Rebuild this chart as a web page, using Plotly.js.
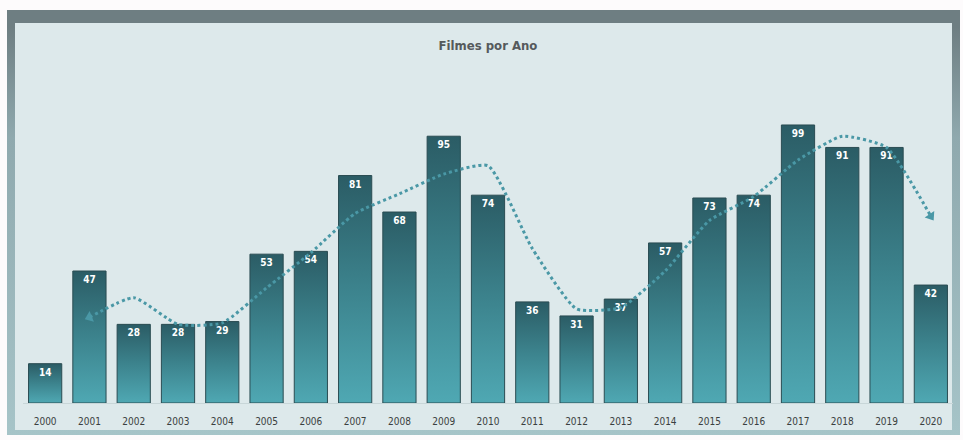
<!DOCTYPE html>
<html>
<head>
<meta charset="utf-8">
<script src="https://cdn.plot.ly/plotly-3.0.1.min.js"></script>
<style>
  html, body { margin: 0; padding: 0; background: #fdfbfc; }
  #frame { position: absolute; left: 7px; top: 10px; width: 953px; height: 425px;
           background: linear-gradient(to bottom, #6e7e82 0%, #6e7e82 4%, #8fa9ae 30%, #a6c4c8 100%); }
  #inner { position: absolute; left: 15px; top: 23px; width: 937px; height: 407px; background: #dde9eb; }
  #chart { position: absolute; left: 0; top: 0; width: 963px; height: 440px; }
</style>
</head>
<body>
<div id="frame"></div>
<div id="inner"></div>
<div id="chart"></div>
<script>
const anos = ['2000','2001','2002','2003','2004','2005','2006','2007','2008','2009','2010',
              '2011','2012','2013','2014','2015','2016','2017','2018','2019','2020'];
const filmes = [14, 47, 28, 28, 29, 53, 54, 81, 68, 95, 74, 36, 31, 37, 57, 73, 74, 99, 91, 91, 42];
const tendenciaAnos = ['2001','2002','2003','2004','2005','2006','2007','2008','2009','2010',
                       '2011','2012','2013','2014','2015','2016','2017','2018','2019','2020'];
const tendencia = [30.5, 37.5, 28, 28.5, 41, 53.5, 67.5, 74.5, 81.5, 84.5,
                   55, 33.5, 34, 47, 65, 73.5, 86.5, 95, 91, 66.5];

const n = tendencia.length;
const symbols = tendencia.map((v, i) => (i === 0 || i === n - 1) ? 'triangle-up' : 'circle');
const sizes = tendencia.map((v, i) => (i === 0 || i === n - 1) ? 10 : 0);
const angles = tendencia.map((v, i) => i === 0 ? 248 : (i === n - 1 ? 146 : 0));

const fontCond = 'DejaVu Sans Condensed, Liberation Sans Narrow, sans-serif';

const bars = {
  type: 'bar', x: anos, y: filmes,
  text: filmes.map(String), textposition: 'inside', insidetextanchor: 'end', textangle: 0,
  textfont: { color: '#ffffff', size: 10, family: fontCond, weight: 'bold' },
  marker: { color: '#3d8791', line: { color: '#2a4c52', width: 1 } },
  width: 0.75, hoverinfo: 'x+y', cliponaxis: false
};
const trend = {
  type: 'scatter', mode: 'lines+markers', x: tendenciaAnos, y: tendencia,
  line: { color: '#4a98a6', width: 3, dash: 'dot', shape: 'spline', smoothing: 0.5 },
  marker: { symbol: symbols, size: sizes, angle: angles, color: '#4a98a6', opacity: 1,
            line: { width: 0 } },
  hoverinfo: 'skip'
};
const layout = {
  width: 963, height: 440,
  margin: { l: 23, r: 10, t: 66, b: 37 },
  paper_bgcolor: 'rgba(0,0,0,0)', plot_bgcolor: 'rgba(0,0,0,0)',
  showlegend: false,
  title: { text: '<b>Filmes por Ano</b>', x: 0.5, xref: 'paper', xanchor: 'center',
           y: 1 - 45 / 440, yref: 'container', yanchor: 'middle',
           font: { family: fontCond, size: 13, color: '#555a5c' } },
  xaxis: { type: 'category', range: [-0.5, 20.5], showgrid: false, zeroline: false,
           showline: true, linecolor: '#c8d6d8', linewidth: 1, ticks: '', ticklabelstandoff: 9,
           tickfont: { family: fontCond, size: 10, color: '#3a3f40' } },
  yaxis: { range: [0, 120], visible: false, showgrid: false, zeroline: false },
  bargap: 0.25
};
Plotly.newPlot('chart', [bars, trend], layout, { displayModeBar: false, staticPlot: true }).then(gd => {
  const svg = gd.querySelector('svg.main-svg');
  const ns = 'http://www.w3.org/2000/svg';
  let defs = svg.querySelector('defs');
  if (!defs) { defs = document.createElementNS(ns, 'defs'); svg.insertBefore(defs, svg.firstChild); }
  const g = document.createElementNS(ns, 'linearGradient');
  g.setAttribute('id', 'barGrad'); g.setAttribute('x1', '0'); g.setAttribute('y1', '0');
  g.setAttribute('x2', '0'); g.setAttribute('y2', '1');
  [['0', '#2b5c65'], ['0.5', '#3c838d'], ['1', '#4fa8b3']].forEach(([o, c]) => {
    const s = document.createElementNS(ns, 'stop');
    s.setAttribute('offset', o); s.setAttribute('stop-color', c); g.appendChild(s);
  });
  defs.appendChild(g);
  gd.querySelectorAll('.bars .point path').forEach(p => { p.style.fill = 'url(#barGrad)'; });
});
</script>
</body>
</html>
